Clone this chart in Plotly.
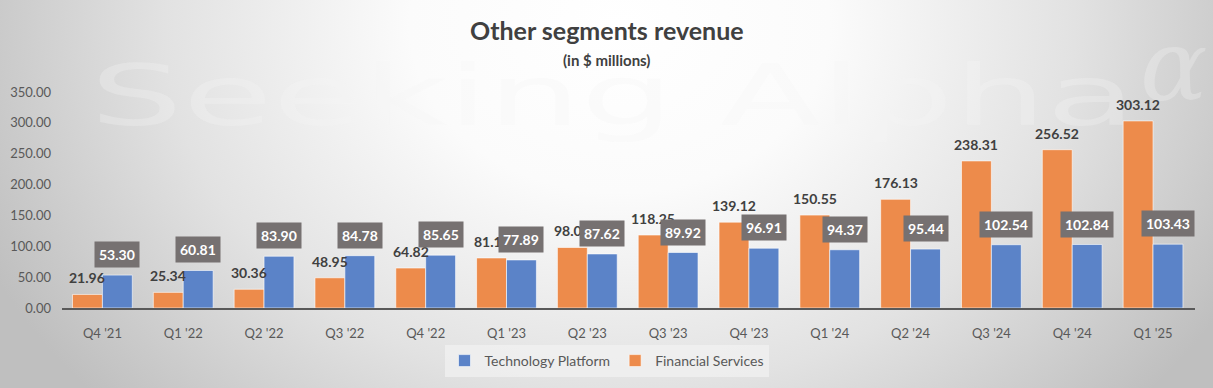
import base64
import plotly.graph_objects as go

quarters = ["Q4 '21", "Q1 '22", "Q2 '22", "Q3 '22", "Q4 '22", "Q1 '23", "Q2 '23",
            "Q3 '23", "Q4 '23", "Q1 '24", "Q2 '24", "Q3 '24", "Q4 '24", "Q1 '25"]
financial_services = [21.96, 25.34, 30.36, 48.95, 64.82, 81.10, 98.05, 118.25,
                      139.12, 150.55, 176.13, 238.31, 256.52, 303.12]
technology_platform = [53.30, 60.81, 83.90, 84.78, 85.65, 77.89, 87.62, 89.92,
                       96.91, 94.37, 95.44, 102.54, 102.84, 103.43]

W, H = 1213, 388
ML, MR, MT, MB = 62, 18, 92, 80
FONT = "Lato"
ORANGE = "#ED8B4B"
BLUE = "#5B83C8"

svg = f'''<svg xmlns="http://www.w3.org/2000/svg" width="{W}" height="{H}" viewBox="0 0 {W} {H}" preserveAspectRatio="none">
<defs><radialGradient id="g" gradientUnits="userSpaceOnUse" cx="620" cy="25" r="700"
 gradientTransform="translate(620 25) scale(1 0.8) translate(-620 -25)">
<stop offset="0" stop-color="#ffffff"/><stop offset="0.3" stop-color="#fbfbfb"/>
<stop offset="0.65" stop-color="#e2e2e2"/><stop offset="1" stop-color="#bfbfbf"/></radialGradient></defs>
<rect width="{W}" height="{H}" fill="url(#g)"/>
<text x="90" y="125" font-family="DejaVu Sans" font-size="84" fill="#f4f4f4" fill-opacity="0.3"
 textLength="1046" lengthAdjust="spacingAndGlyphs">Seeking Alpha</text>
<text x="1140" y="100" font-family="DejaVu Serif" font-style="italic" font-size="100" fill="#f4f4f4" fill-opacity="0.3">&#945;</text>
</svg>'''
bg_uri = "data:image/svg+xml;base64," + base64.b64encode(svg.encode()).decode()

pw = W - ML - MR
ph = H - MT - MB

fig = go.Figure()
fig.add_trace(go.Bar(
    x=quarters, y=financial_services, name="Financial Services",
    marker=dict(color=ORANGE, line=dict(color="rgba(255,255,255,0.6)", width=1)),
))
fig.add_trace(go.Bar(
    x=quarters, y=technology_platform, name="Technology Platform",
    marker=dict(color=BLUE, line=dict(color="rgba(255,255,255,0.6)", width=1)),
))

bargap = 0.26
cat_w = pw / len(quarters)
bar_w = cat_w * (1 - bargap) / 2

annotations = []
for q, v in zip(quarters, financial_services):
    annotations.append(dict(
        x=q, y=v, xref="x", yref="y", text=f"{v:.2f}", showarrow=False,
        xshift=-bar_w / 2, yshift=6, yanchor="bottom",
        font=dict(family=FONT, size=14, color="#404040", weight="bold"),
    ))
for q, v in zip(quarters, technology_platform):
    annotations.append(dict(
        x=q, y=v, xref="x", yref="y", text=f"{v:.2f}", showarrow=False,
        xshift=bar_w / 2, yshift=7, yanchor="bottom",
        bgcolor="#767171", borderpad=4,
        font=dict(family=FONT, size=14, color="#ffffff", weight="bold"),
    ))

annotations.append(dict(
    text="<b>Other segments revenue</b>", xref="paper", yref="paper",
    x=0.5, y=1 + (MT - 30) / ph, xanchor="center", yanchor="middle", showarrow=False,
    xshift=(W / 2 - (ML + pw / 2)),
    font=dict(family=FONT, size=25, color="#404040"),
))
annotations.append(dict(
    text="<b>(in $ millions)</b>", xref="paper", yref="paper",
    x=0.5, y=1 + (MT - 60) / ph, xanchor="center", yanchor="middle", showarrow=False,
    xshift=(W / 2 - (ML + pw / 2)),
    font=dict(family=FONT, size=15, color="#404040"),
))

fig.update_layout(
    width=W, height=H,
    margin=dict(l=ML, r=MR, t=MT, b=MB, pad=0, autoexpand=False),
    paper_bgcolor="#d2d2d2", plot_bgcolor="rgba(0,0,0,0)",
    barmode="group", bargap=bargap, bargroupgap=0,
    showlegend=True,
    legend=dict(
        orientation="h", traceorder="reversed",
        xref="container", yref="container", x=0.5, y=1 - 361 / H,
        xanchor="center", yanchor="middle",
        bgcolor="rgba(242,242,242,0.7)",
        font=dict(family=FONT, size=14, color="#595959"),
        itemwidth=30,
    ),
    annotations=annotations,
    images=[dict(
        source=bg_uri, xref="paper", yref="paper",
        x=-ML / pw, y=1 + MT / ph, sizex=W / pw, sizey=H / ph,
        xanchor="left", yanchor="top", sizing="stretch", layer="below",
    )],
    xaxis=dict(
        showline=True, linecolor="#595959", linewidth=2, showgrid=False,
        ticks="", tickfont=dict(family=FONT, size=13, color="#595959"),
        ticklabelstandoff=12,
    ),
    yaxis=dict(
        range=[0, 350], dtick=50, tickformat=".2f", showgrid=False,
        zeroline=False, showline=False, ticks="",
        tickfont=dict(family=FONT, size=13, color="#595959"),
        ticklabelstandoff=10,
    ),
)

fig.write_html(
    "out.html",
    config={"displayModeBar": False},
    post_script="document.body.style.margin='0';document.body.style.overflow='hidden';",
)
